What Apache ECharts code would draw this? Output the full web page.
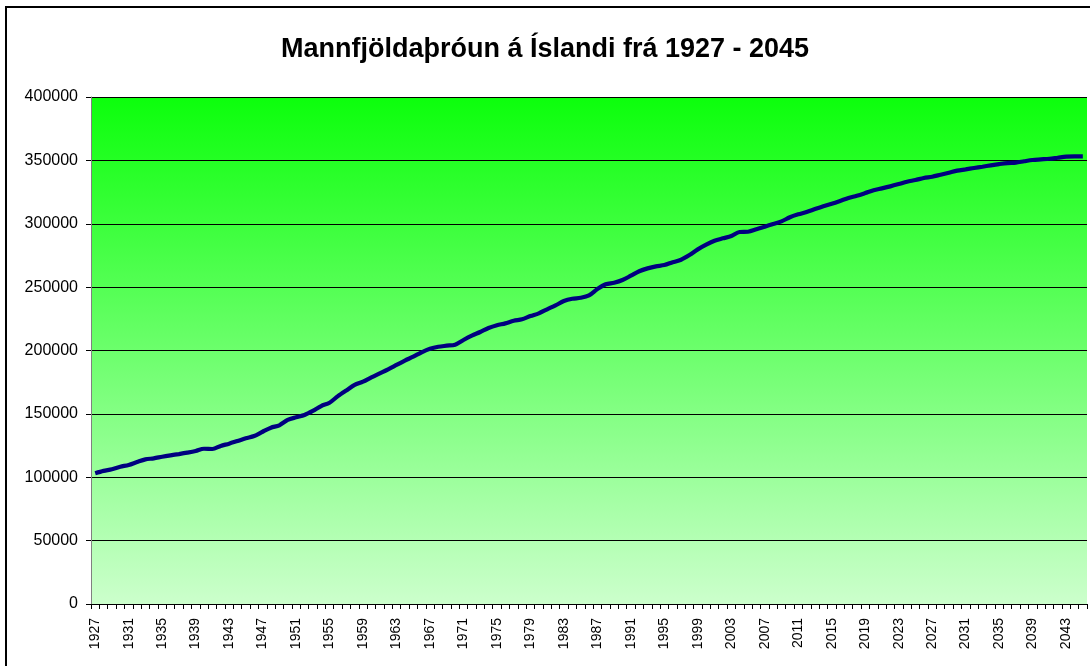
<!DOCTYPE html>
<html>
<head>
<meta charset="utf-8">
<script src="https://cdn.jsdelivr.net/npm/echarts@6/dist/echarts.min.js"></script>
<style>
html,body{margin:0;padding:0;background:#fff;}
#chart{width:1090px;height:666px;}
</style>
</head>
<body>
<div id="chart"></div>
<script>
const titleText = 'Mannfjöldaþróun á Íslandi frá 1927 - 2045';
const startYear = 1927;
const endYear = 2045;
const years = [];
for (let y = startYear; y <= endYear; y++) years.push(String(y));
const population = [
  103100, 105000, 106300, 108300, 109700, 112000, 114100, 114900, 116200, 117300,
  118300, 119400, 120700, 122500, 122300, 124700, 126500, 128600, 130700, 132500,
  135900, 139100, 141000, 145200, 147300, 149100, 152300, 156200, 158800, 164000,
  168500, 172800, 175400, 178800, 182000, 185200, 188600, 192000, 195100, 198600,
  201400, 203000, 203800, 204600, 208300, 211700, 214600, 217700, 219900, 221400,
  223500, 224600, 227200, 229300, 232500, 235600, 239000, 240800, 241600, 243500,
  248500, 252200, 253500, 255600, 259000, 262500, 264800, 266400, 267400, 269600,
  271600, 275300, 279800, 283500, 286600, 288500, 290300, 293500, 293700, 295600,
  297700, 299800, 301900, 305100, 307400, 309300, 311600, 313800, 315800, 318000,
  320300, 322100, 324200, 326400, 327900, 329500, 331300, 333200, 334500, 336100,
  337100, 338700, 340300, 341900, 342900, 344000, 345000, 346100, 347100, 347900,
  348200, 349300, 350300, 350800, 351300, 352100, 352900, 353200, 353200
];
const yTicks = { min: 0, max: 400000, interval: 50000 };

const chart = echarts.init(document.getElementById('chart'), null, {renderer: 'canvas'});
chart.setOption({
  animation: false,
  backgroundColor: '#ffffff',
  title: {
    text: titleText,
    left: 'center',
    top: 31,
    textStyle: {fontFamily: 'Liberation Sans, Arial, sans-serif', fontSize: 27, fontWeight: 'bold', color: '#000'}
  },
  graphic: [{
    type: 'rect',
    shape: {x: 6, y: 7, width: 1200, height: 800},
    style: {fill: 'none', stroke: '#000', lineWidth: 2},
    z: 100
  }],
  grid: {
    left: 91, top: 97, right: 3, bottom: 62,
    show: true,
    borderWidth: 0,
    backgroundColor: new echarts.graphic.LinearGradient(0, 0, 0, 1, [
      {offset: 0, color: '#0cff0c'},
      {offset: 1, color: '#ccffcc'}
    ])
  },
  xAxis: {
    type: 'category',
    data: years,
    boundaryGap: true,
    axisLine: {show: true, lineStyle: {color: '#000', width: 1}},
    axisTick: {show: true, interval: 0, length: 5, lineStyle: {color: '#000'}},
    axisLabel: {
      interval: 3, rotate: 90, color: '#000', fontSize: 14, margin: 14,
      fontFamily: 'Liberation Sans, Arial, sans-serif'
    },
    splitLine: {show: false}
  },
  yAxis: {
    type: 'value',
    min: yTicks.min, max: yTicks.max, interval: yTicks.interval,
    axisLine: {show: true, lineStyle: {color: '#808080', width: 1}},
    axisTick: {show: true, length: 5, lineStyle: {color: '#000'}},
    axisLabel: {
      color: '#000', fontSize: 16, margin: 13,
      fontFamily: 'Liberation Sans, Arial, sans-serif',
      formatter: function (v) { return String(v); }
    },
    splitLine: {show: true, lineStyle: {color: '#000', width: 1}}
  },
  series: [{
    type: 'line',
    data: population,
    smooth: 0.3,
    showSymbol: false,
    lineStyle: {color: '#000080', width: 4.2},
    itemStyle: {color: '#000080'}
  }]
});
</script>
</body>
</html>
